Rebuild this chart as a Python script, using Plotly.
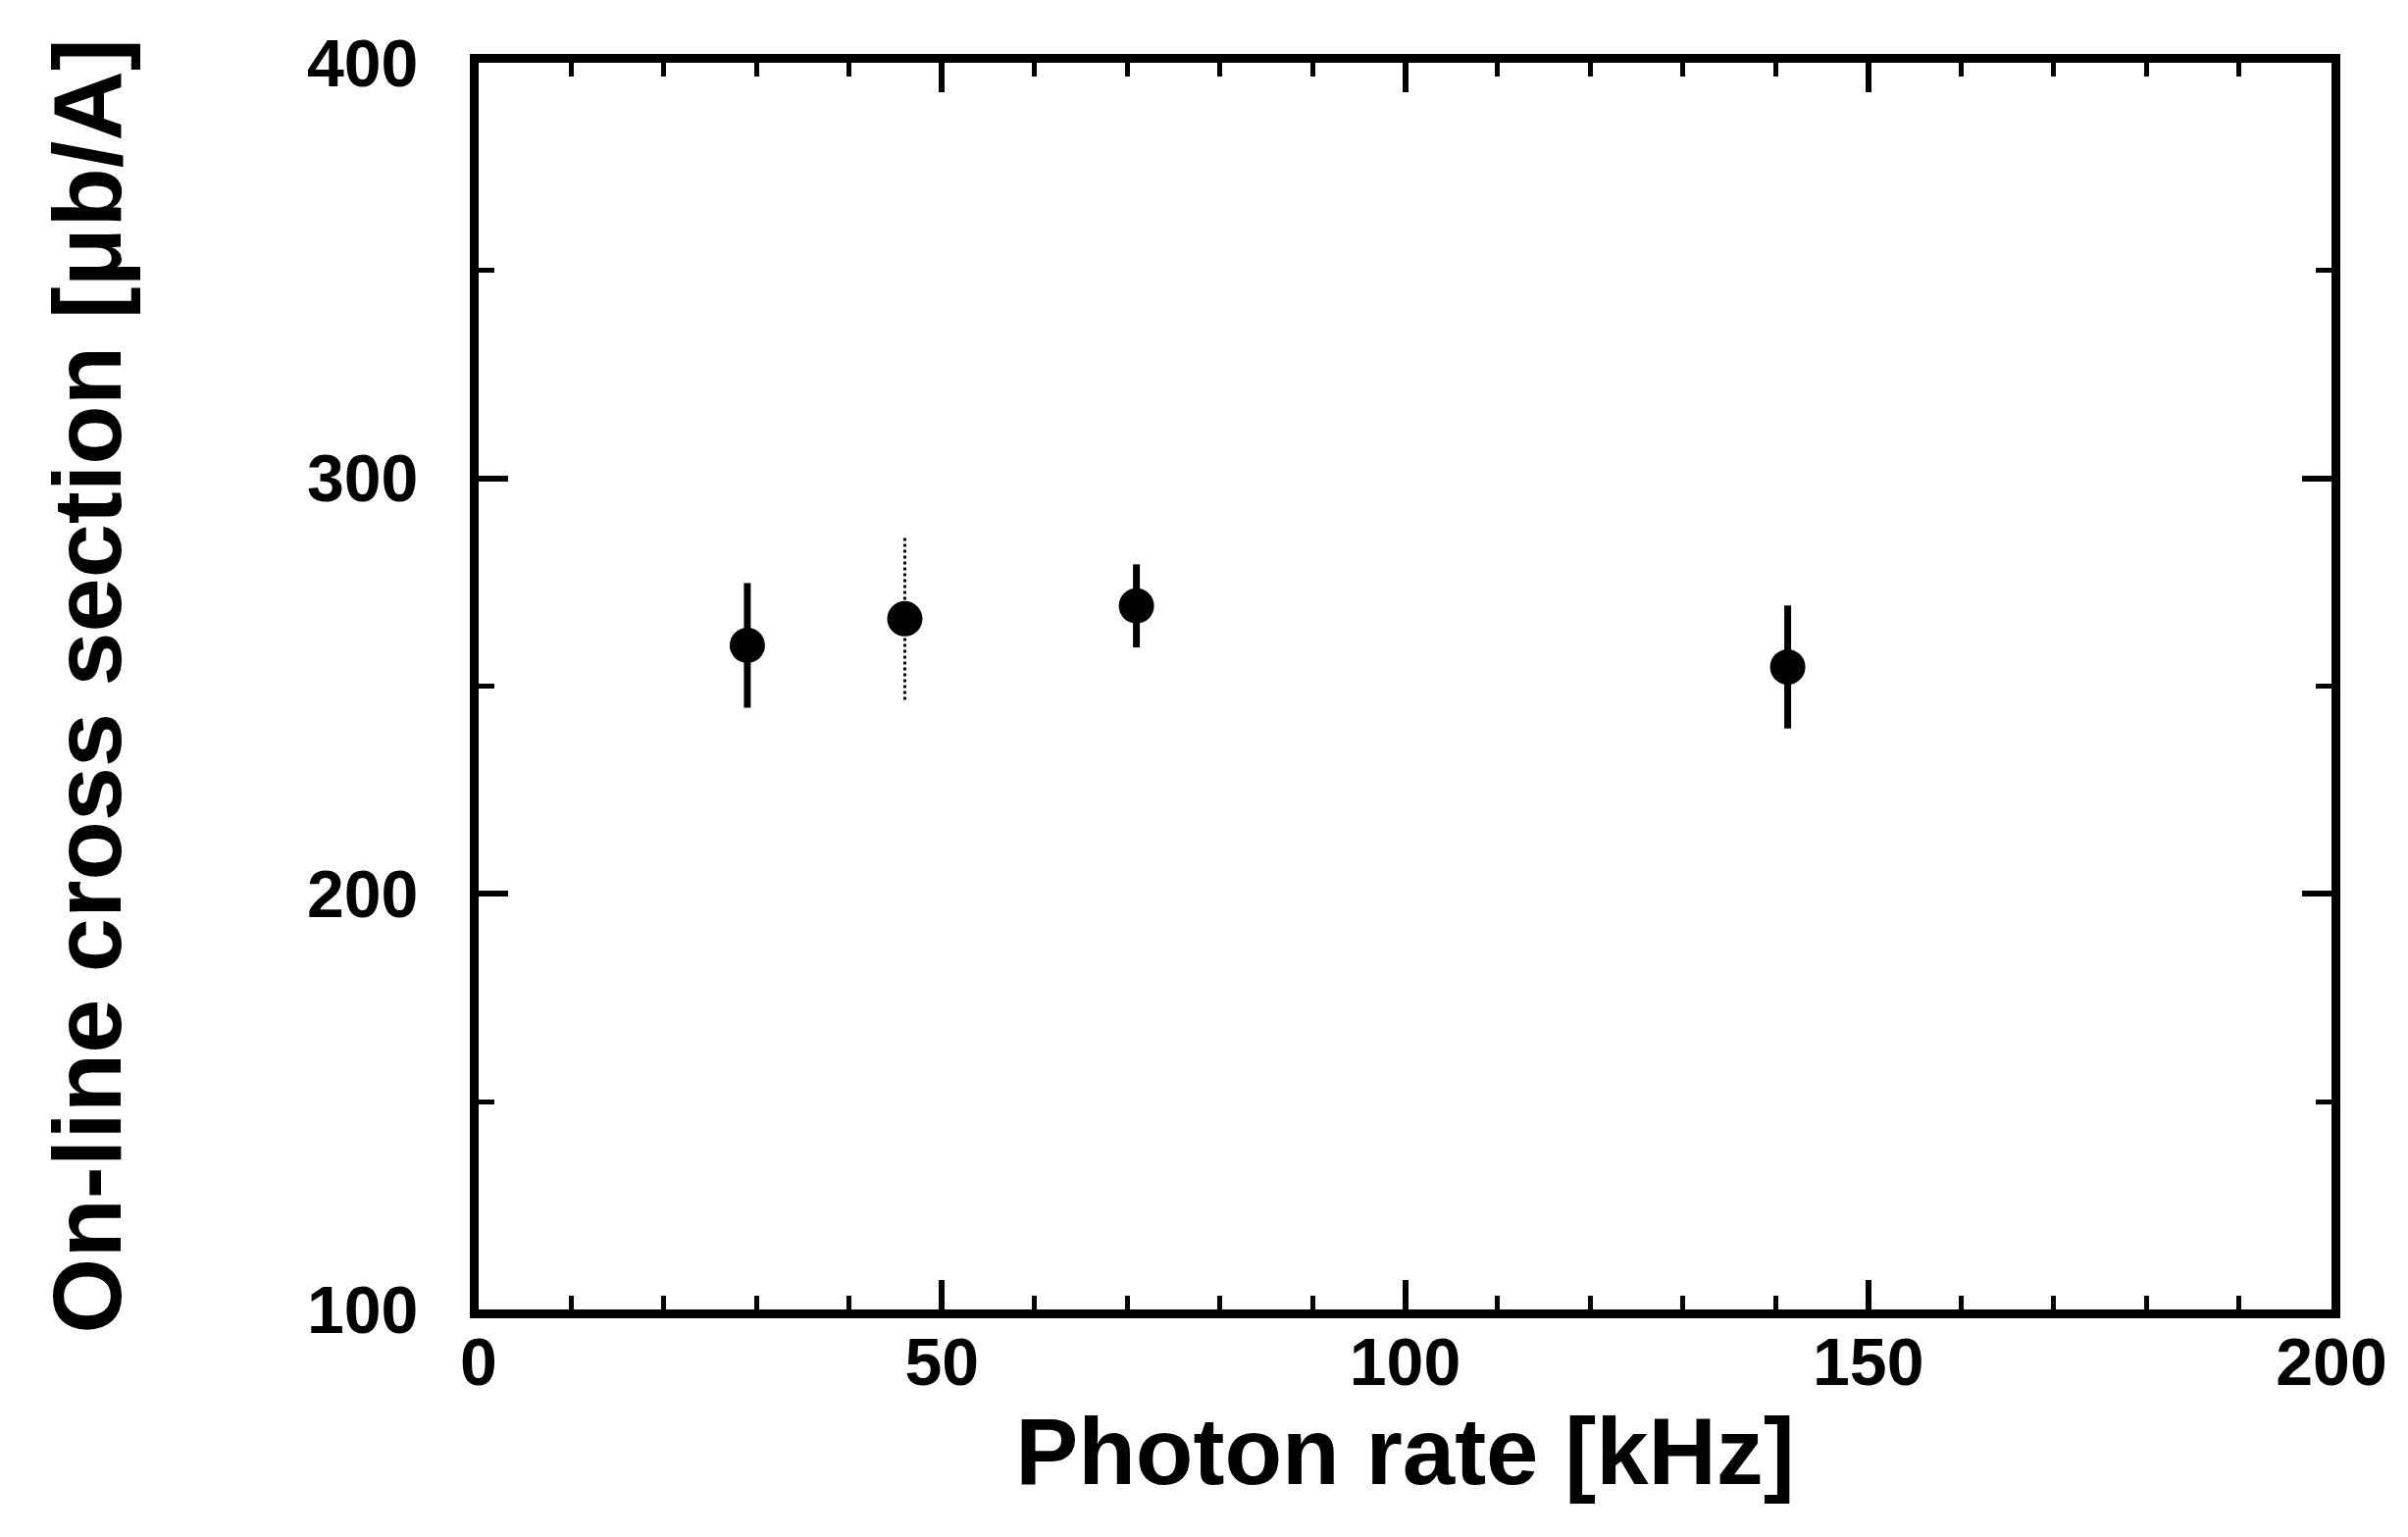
import plotly.graph_objects as go

# Data
photon_rate = [29.0, 46.0, 71.0, 141.3]          # kHz
cross_section = [259.8, 266.2, 269.3, 254.6]     # micro-barn / A
cross_err = [15.0, 19.5, 10.0, 14.8]
# the error bar of the second point is only faintly printed (broken)
faint = [False, True, False, False]

x_ticks = [0, 50, 100, 150, 200]
y_ticks = [100, 200, 300, 400]

FONT = "Liberation Sans"

fig = go.Figure()

# solid error bars
sx = [x for x, f in zip(photon_rate, faint) if not f]
sy = [y for y, f in zip(cross_section, faint) if not f]
se = [e for e, f in zip(cross_err, faint) if not f]
fig.add_trace(go.Scatter(
    x=sx, y=sy, mode="markers",
    marker=dict(size=36, color="black"),
    error_y=dict(type="data", array=se, visible=True, thickness=7, width=0, color="black"),
    showlegend=False,
))

# faint (dotted) error bar
for x, y, e, f in zip(photon_rate, cross_section, cross_err, faint):
    if f:
        fig.add_trace(go.Scatter(
            x=[x, x], y=[y - e, y + e], mode="lines",
            line=dict(color="black", width=3, dash="dot"),
            showlegend=False, hoverinfo="skip",
        ))
        fig.add_trace(go.Scatter(
            x=[x], y=[y], mode="markers",
            marker=dict(size=36, color="black"),
            showlegend=False,
        ))

axis_common = dict(
    showgrid=False, zeroline=False,
    showline=True, linecolor="black", linewidth=9,
    mirror="ticks",
    ticks="inside", tickcolor="black", tickwidth=6,
    tickfont=dict(family=FONT, size=68, color="black", weight="bold"),
)

fig.update_xaxes(
    range=[0, 200], tickvals=x_ticks, ticktext=[str(v) for v in x_ticks],
    ticklen=30, ticklabelstandoff=-14,
    minor=dict(ticks="inside", dtick=10, ticklen=14, tickwidth=5, tickcolor="black", showgrid=False),
    title=dict(text="Photon rate [kHz]", font=dict(family=FONT, size=96, color="black", weight="bold"), standoff=2),
    **axis_common,
)
fig.update_yaxes(
    range=[100, 400], tickvals=y_ticks, ticktext=[str(v) for v in y_ticks],
    ticklen=30, ticklabelstandoff=39,
    minor=dict(ticks="inside", dtick=50, ticklen=16, tickwidth=5, tickcolor="black", showgrid=False),
    title=dict(text="On-line cross section [μb/A]", font=dict(family=FONT, size=99, color="black", weight="bold"), standoff=160),
    **axis_common,
)

fig.update_layout(
    width=2455, height=1567,
    margin=dict(l=488, r=78, t=64, b=232, autoexpand=False),
    paper_bgcolor="white", plot_bgcolor="white",
    showlegend=False,
)

fig.write_html("out.html")
